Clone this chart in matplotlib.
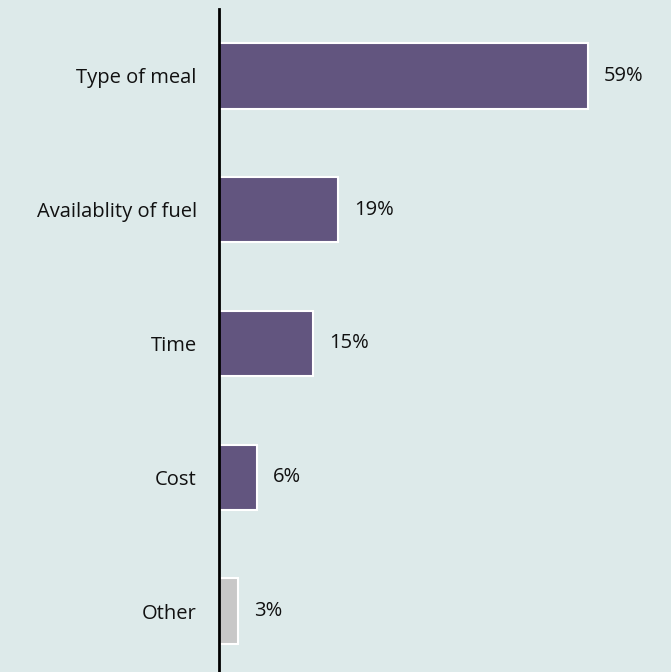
import matplotlib
matplotlib.use("Agg")
import matplotlib.pyplot as plt

categories = ["Type of meal", "Availablity of fuel", "Time", "Cost", "Other"]
values = [59, 19, 15, 6, 3]
colors = ["#62557f", "#62557f", "#62557f", "#62557f", "#c8c8c8"]
bg = "#ddeaea"

plt.rcParams["font.family"] = ["Open Sans", "DejaVu Sans"]

fig = plt.figure(figsize=(6.71, 6.72), dpi=100, facecolor=bg)
ax = fig.add_axes([219 / 671, -6 / 672, 452 / 671, 669 / 672])
ax.set_facecolor(bg)

y = list(range(len(categories)))
bars = ax.barh(y, values, height=0.49, color=colors, edgecolor="white", linewidth=1.5)
ax.set_ylim(len(categories) - 0.5, -0.5)
ax.set_xlim(0, 72.3)

ax.set_yticks(y)
ax.set_yticklabels(categories, fontsize=14.5, color="#111111")
ax.tick_params(axis="y", length=0, pad=16)
ax.set_xticks([])

for s in ["top", "right", "bottom"]:
    ax.spines[s].set_visible(False)
ax.spines["left"].set_linewidth(2)
ax.spines["left"].set_color("black")

for b, v in zip(bars, values):
    ax.annotate(f"{v}%", xy=(b.get_width(), b.get_y() + b.get_height() / 2),
                xytext=(11.5, 0), textcoords="offset points",
                ha="left", va="center", fontsize=14.5, color="#111111")

fig.savefig("out.png", dpi=100, facecolor=bg)
